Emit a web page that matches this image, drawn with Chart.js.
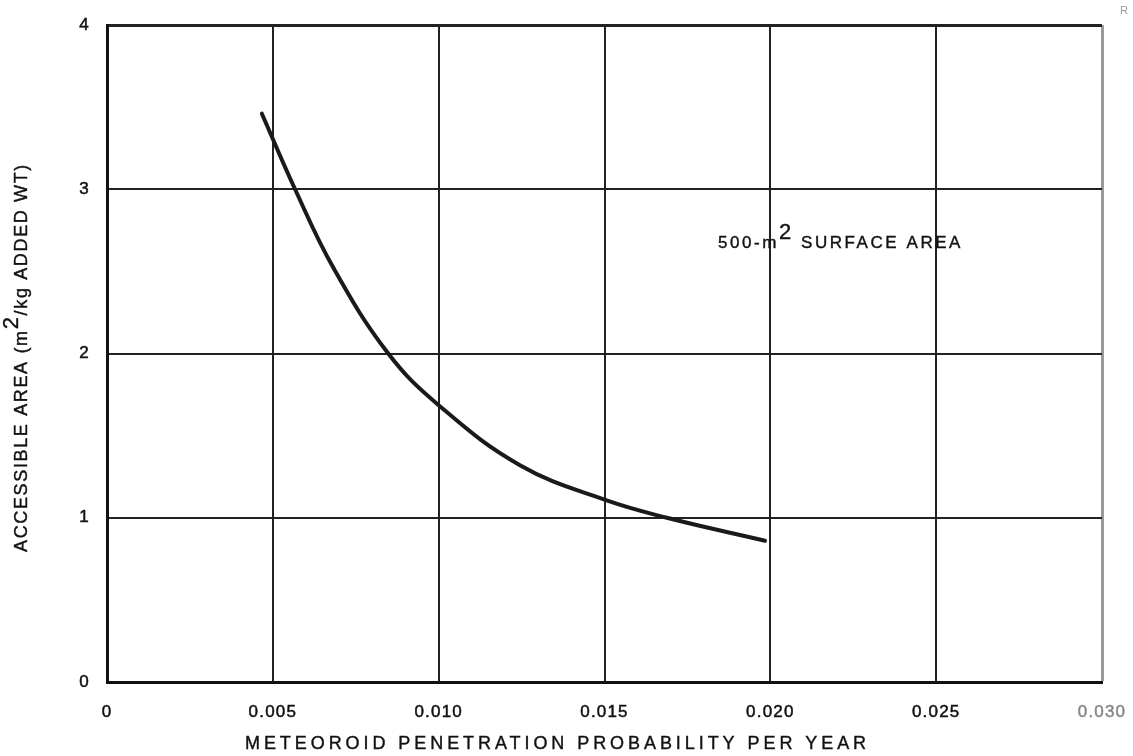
<!DOCTYPE html>
<html><head><meta charset="utf-8">
<script src="https://cdn.jsdelivr.net/npm/chart.js@4"></script>
<style>html,body{margin:0;padding:0;background:#fff}#wrap{width:1133px;height:756px;position:relative}</style>
</head><body><div id="wrap"><canvas id="c" width="1133" height="756"></canvas></div>
<script>
const xValues = [0.00467, 0.00567, 0.00683, 0.00848, 0.0100, 0.01245, 0.0150, 0.01688, 0.01984];
const yValues = [3.46, 3.00, 2.52, 2.00, 1.685, 1.32, 1.11, 1.00, 0.86];
const xTicks = [0, 0.005, 0.010, 0.015, 0.020, 0.025, 0.030];
const yTicks = [0, 1, 2, 3, 4];
const xTitle = 'METEOROID PENETRATION PROBABILITY PER YEAR';
const yTitleParts = ['ACCESSIBLE AREA (m', '2', '/kg ADDED WT)'];
const noteParts = ['500-m', '2', ' SURFACE AREA'];
const noteY = 2.68;

const FONT = '"Liberation Sans", Arial, Helvetica, sans-serif';
const points = xValues.map((x, i) => ({x, y: yValues[i]}));
const near = (a, b) => Math.abs(a - b) < 1e-9;

function drawSup(ctx, parts, size, supSize, supRise, ls) {
  let x = 0;
  parts.forEach((p, i) => {
    const sup = i % 2 === 1;
    ctx.font = (sup ? supSize : size) + 'px ' + FONT;
    ctx.letterSpacing = ls + 'px';
    const y = sup ? -supRise : 0;
    ctx.strokeText(p, x, y);
    ctx.fillText(p, x, y);
    x += ctx.measureText(p).width;
  });
  return x;
}
function measureSup(ctx, parts, size, supSize, ls) {
  let w = 0;
  parts.forEach((p, i) => { ctx.font = ((i % 2) ? supSize : size) + 'px ' + FONT; ctx.letterSpacing = ls + 'px'; w += ctx.measureText(p).width; });
  return w;
}
function fitSpacing(ctx, parts, size, supSize, target) {
  const n = parts.join('').length;
  const w0 = measureSup(ctx, parts, size, supSize, 0);
  return Math.max(0, (target - w0) / n);
}
function drawSupAt(ctx, parts, size, supSize, rise, ls, x, y, rot) {
  ctx.save();
  ctx.translate(x, y);
  if (rot) ctx.rotate(rot);
  drawSup(ctx, parts, size, supSize, rise, ls);
  ctx.restore();
}

const textPlugin = {
  id: 'texts',
  beforeDraw(chart) { chart.ctx.letterSpacing = '1.2px'; },
  afterDraw(chart) {
    const ctx = chart.ctx;
    const ys = chart.scales.y;
    ctx.save();
    ctx.fillStyle = '#111';
    ctx.strokeStyle = '#111';
    ctx.lineWidth = 0.4;
    ctx.textBaseline = 'alphabetic';
    ctx.textAlign = 'left';
    const xp = [xTitle];
    drawSupAt(ctx, xp, 18, 18, 0, fitSpacing(ctx, xp, 18, 18, 625), 245, 749, 0);
    drawSupAt(ctx, yTitleParts, 18, 22, 9, fitSpacing(ctx, yTitleParts, 18, 22, 389), 27, 552, -Math.PI / 2);
    drawSupAt(ctx, noteParts, 17, 22, 9, fitSpacing(ctx, noteParts, 17, 22, 245), 718, ys.getPixelForValue(noteY) + 6, 0);
    ctx.fillStyle = '#999';
    ctx.letterSpacing = '0px';
    ctx.font = '11px ' + FONT;
    ctx.fillText('R', 1120, 14);
    ctx.restore();
  }
};

new Chart(document.getElementById('c'), {
  type: 'scatter',
  data: { datasets: [{
    data: points, showLine: true, borderColor: '#1a1a1a', borderWidth: 4,
    pointRadius: 0, tension: 0.4, borderCapStyle: 'round'
  }]},
  options: {
    responsive: false, animation: false, devicePixelRatio: 1,
    layout: { padding: { top: 25, right: 31, left: 0, bottom: 0 } },
    plugins: { legend: { display: false }, tooltip: { enabled: false } },
    scales: {
      x: {
        type: 'linear', min: 0, max: 0.03,
        afterBuildTicks: s => { s.ticks = xTicks.map(v => ({value: v})); },
        afterFit: s => { s.height = 74; s.paddingRight = 0; s.paddingLeft = 0; },
        border: { display: true, color: '#111', width: 3 },
        grid: {
          drawTicks: false,
          color: c => (c.tick && near(c.tick.value, 0.03)) ? '#9a9a9a' : '#222',
          lineWidth: c => (c.tick && (near(c.tick.value, 0.03))) ? 3 : 2
        },
        ticks: {
          padding: 20,
          font: { family: FONT, size: 17 },
          color: c => near(c.tick.value, 0.03) ? '#888' : '#111',
          textStrokeColor: c => near(c.tick.value, 0.03) ? '#888' : '#111',
          textStrokeWidth: 0.5,
          callback: v => near(v, 0) ? '0' : Number(v).toFixed(3)
        }
      },
      y: {
        type: 'linear', min: 0, max: 4,
        afterBuildTicks: s => { s.ticks = yTicks.map(v => ({value: v})); },
        afterFit: s => { s.width = 107; s.paddingTop = 0; s.paddingBottom = 0; },
        border: { display: true, color: '#111', width: 3 },
        grid: {
          drawTicks: false,
          color: '#222',
          lineWidth: c => (c.tick && c.tick.value === 4) ? 3 : 2
        },
        ticks: {
          padding: 17,
          font: { family: FONT, size: 17 },
          color: '#111',
          textStrokeColor: '#111',
          textStrokeWidth: 0.5,
          callback: v => String(v)
        }
      }
    }
  },
  plugins: [textPlugin]
});
</script>
</body></html>
